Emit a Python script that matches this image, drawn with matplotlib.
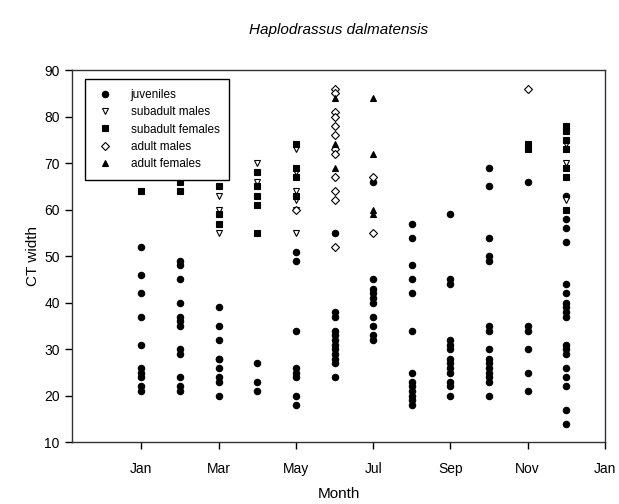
import numpy as np
from matplotlib import pyplot as plt

plt.rcParams['font.family'] = ['Liberation Sans', 'DejaVu Sans']

# CT width per month (index 0 = Jan ... 11 = Dec)
juveniles = [
    [52, 46, 42, 37, 31, 26, 25, 24, 22, 21],
    [49, 48, 45, 40, 37, 36, 35, 30, 29, 24, 22, 21],
    [39, 35, 32, 28, 28, 26, 24, 23, 20],
    [27, 23, 21],
    [51, 49, 34, 26, 25, 24, 20, 18],
    [55, 38, 37, 34, 33, 32, 31, 30, 29, 28, 27, 24],
    [66, 45, 43, 42, 41, 40, 37, 35, 33, 32],
    [57, 54, 48, 45, 42, 34, 25, 23, 22, 21, 20, 19, 18],
    [59, 45, 44, 32, 31, 30, 28, 27, 26, 25, 23, 22, 20],
    [69, 65, 54, 50, 49, 35, 34, 30, 28, 27, 26, 25, 24, 23, 20],
    [66, 35, 34, 30, 25, 21],
    [63, 58, 56, 53, 44, 42, 40, 39, 38, 37, 31, 30, 29, 26, 24, 22, 17, 14],
]
subadult_males = [
    [], [], [63, 60, 55], [70, 66], [73, 68, 64, 62, 60, 55],
    [], [], [], [], [], [], [74, 70, 62],
]
subadult_females = [
    [64], [66, 64], [65, 59, 57], [68, 65, 63, 61, 55], [74, 69, 67, 63],
    [], [], [], [], [], [74, 73], [78, 77, 75, 73, 69, 67, 60],
]
adult_males = [
    [], [], [], [], [60],
    [86, 85, 81, 80, 78, 76, 73, 72, 67, 64, 62, 52],
    [67, 55], [], [], [], [86], [],
]
adult_females = [
    [], [], [], [], [], [84, 74, 69], [84, 72, 60, 59],
    [], [], [], [], [],
]

tick_pos = [1, 3, 5, 7, 9, 11, 13]
tick_labels = ['Jan', 'Mar', 'May', 'Jul', 'Sep', 'Nov', 'Jan']


def flatten(groups):
    xs, ys = [], []
    for m, vals in enumerate(groups):
        for v in vals:
            xs.append(m + 1)
            ys.append(v)
    return xs, ys


fig = plt.figure(figsize=(6.19, 5.04), dpi=100)
ax = fig.add_axes([0.1168, 0.1224, 0.8606, 0.7387])

series = [
    (juveniles, 'juveniles', 'o', 'black', 4.6),
    (subadult_males, 'subadult males', 'v', 'white', 4.8),
    (subadult_females, 'subadult females', 's', 'black', 4.2),
    (adult_males, 'adult males', 'D', 'white', 4.0),
    (adult_females, 'adult females', '^', 'black', 4.8),
]
for data, name, mk, fc, ms in series:
    x, y = flatten(data)
    ax.plot(x, y, linestyle='none', marker=mk, markersize=ms,
            markerfacecolor=fc, markeredgecolor='black',
            markeredgewidth=0.8, label=name)

ax.set_xlim(-0.786, 13)
ax.set_ylim(10, 90)
ax.set_xticks(tick_pos)
ax.set_xticklabels(tick_labels)
ax.set_yticks(np.arange(10, 91, 10))
ax.tick_params(direction='out', length=5, width=1, labelsize=10, pad=9)
ax.tick_params(axis='y', pad=4)
for s in ax.spines.values():
    s.set_color('#333333')
    s.set_linewidth(1)

ax.set_xlabel('Month', fontsize=11, labelpad=8)
ax.set_ylabel('CT width', fontsize=11, labelpad=3)
ax.set_title('Haplodrassus dalmatensis', fontsize=11, style='italic', pad=26)

leg = ax.legend(loc='upper left', bbox_to_anchor=(0.024, 0.976),
                borderaxespad=0, fancybox=False, framealpha=1,
                edgecolor='black', fontsize=8.5, labelspacing=0.45,
                handlelength=1.6, handletextpad=1.4, borderpad=0.85,
                numpoints=1)
leg.get_frame().set_linewidth(1)

fig.savefig('out.png', dpi=100)
